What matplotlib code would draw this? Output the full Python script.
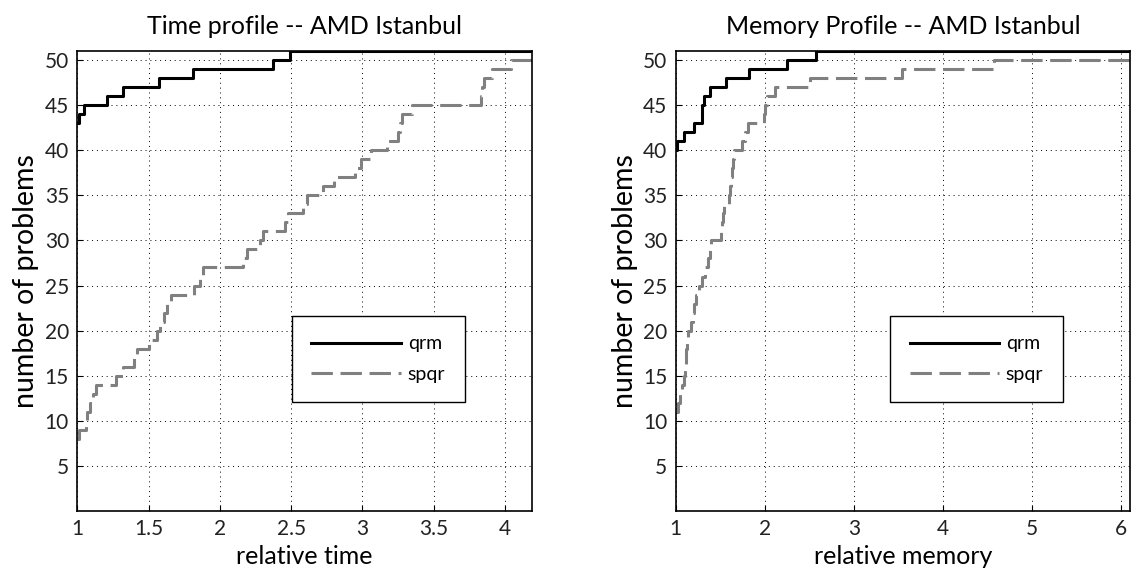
import numpy as np
import matplotlib
matplotlib.use("Agg")
import matplotlib.pyplot as plt

plt.rcParams['font.family'] = ['Lato', 'DejaVu Sans']

# time profile -- x where the count steps up, count after the step
time_qrm_x = [1.0, 1.01, 1.05, 1.21, 1.32, 1.57, 1.81, 2.37, 2.49]
time_qrm_y = [43, 44, 45, 46, 47, 48, 49, 50, 51]

time_spqr_x = [1.0, 1.01, 1.06, 1.07, 1.09, 1.11, 1.13, 1.27, 1.32, 1.40,
               1.42, 1.50, 1.56, 1.58, 1.61, 1.63, 1.66, 1.82, 1.86, 1.88,
               2.16, 2.19, 2.28, 2.30, 2.46, 2.48, 2.58, 2.61, 2.72, 2.80,
               2.95, 2.99, 3.06, 3.17, 3.25, 3.26, 3.28, 3.35, 3.83, 3.84,
               3.85, 3.91, 4.04]
time_spqr_y = list(range(8, 51))

# memory profile
mem_qrm_x = [1.0, 1.02, 1.09, 1.21, 1.29, 1.30, 1.32, 1.39, 1.57, 1.82, 2.25, 2.57]
mem_qrm_y = [40, 41, 42, 43, 44, 45, 46, 47, 48, 49, 50, 51]

mem_spqr_x = [1.0, 1.03, 1.05, 1.07, 1.09, 1.10, 1.11, 1.12, 1.13, 1.14,
              1.17, 1.19, 1.21, 1.23, 1.26, 1.29, 1.33, 1.36, 1.38, 1.40,
              1.51, 1.52, 1.53, 1.54, 1.60, 1.61, 1.62, 1.63, 1.64, 1.65,
              1.74, 1.78, 1.81, 1.99, 2.00, 2.02, 2.11, 2.51, 3.54, 4.57]
mem_spqr_y = list(range(11, 51))

time_xmax = 4.19
mem_xmax = 6.1
time_xticks = [1, 1.5, 2, 2.5, 3, 3.5, 4]
time_xticklabels = ['1', '1.5', '2', '2.5', '3', '3.5', '4']
mem_xticks = [1, 2, 3, 4, 5, 6]
yticks = [5, 10, 15, 20, 25, 30, 35, 40, 45, 50]

fig = plt.figure(figsize=(11.48, 5.72), dpi=100)
ax1 = fig.add_axes([0.0673, 0.1066, 0.3963, 0.8042])
ax2 = fig.add_axes([0.5886, 0.1066, 0.3957, 0.8042])

panels = [
    (ax1, time_qrm_x, time_qrm_y, time_spqr_x, time_spqr_y, time_xmax,
     time_xticks, time_xticklabels, 'Time profile -- AMD Istanbul', 'relative time'),
    (ax2, mem_qrm_x, mem_qrm_y, mem_spqr_x, mem_spqr_y, mem_xmax,
     mem_xticks, [str(t) for t in mem_xticks], 'Memory Profile -- AMD Istanbul', 'relative memory'),
]

for ax, qx, qy, sx, sy, xmax, xt, xtl, title, xlabel in panels:
    ax.step(qx + [xmax], qy + [qy[-1]], where='post', color='black', lw=2.2, label='qrm')
    ax.step(sx + [xmax], sy + [sy[-1]], where='post', color='#808080', lw=2.2,
            dashes=(7, 2.5), label='spqr')
    ax.set_xlim(1, xmax)
    ax.set_ylim(0, 51)
    ax.set_xticks(xt, xtl)
    ax.set_yticks(yticks)
    ax.tick_params(direction='in', length=4, width=0.8, labelsize=15, pad=6,
                   labelcolor='#222222')
    ax.grid(True, color='black', linestyle=(0, (1, 4)), linewidth=0.7)
    for s in ax.spines.values():
        s.set_linewidth(1.2)
    ax.set_title(title, fontsize=18, pad=12)
    ax.set_xlabel(xlabel, fontsize=18)
    ax.set_ylabel('number of problems', fontsize=20.5)
    leg = ax.legend(loc='upper left', bbox_to_anchor=(0.472, 0.424), borderaxespad=0,
                    fontsize=14, handlelength=4.6, handletextpad=0.35,
                    borderpad=1.0, labelspacing=0.7,
                    fancybox=False, framealpha=1, edgecolor='black')
    leg.get_frame().set_linewidth(1.0)

fig.savefig('out.png', dpi=100)
